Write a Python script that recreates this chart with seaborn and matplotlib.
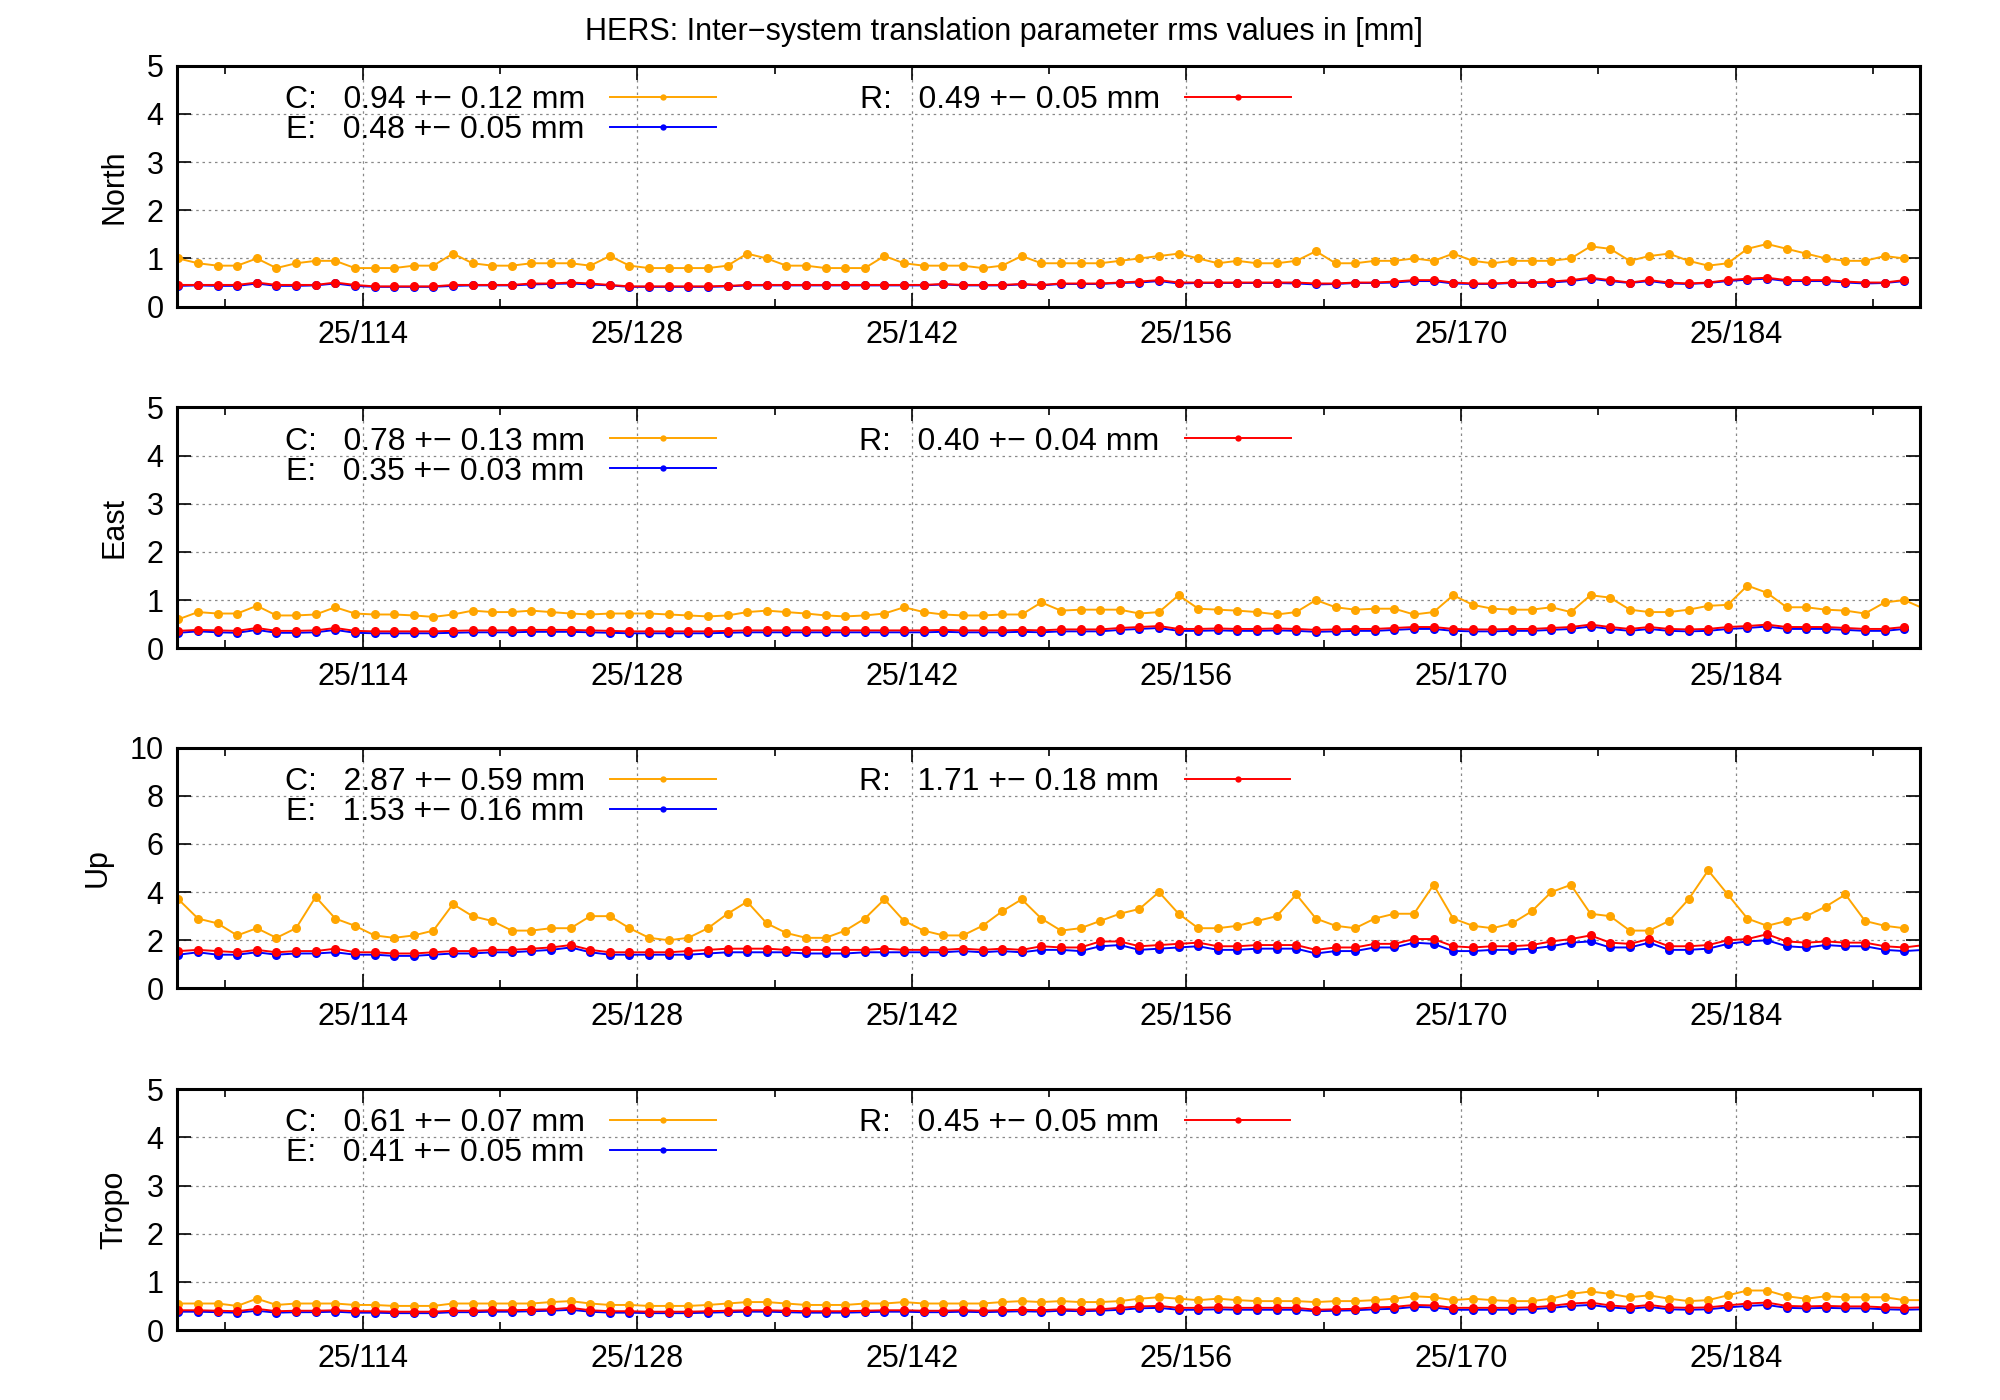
import numpy as np
import pandas as pd
import matplotlib
matplotlib.use("Agg")
import matplotlib.pyplot as plt
import seaborn as sns

start_day = 104.6
tick_days = [114, 128, 142, 156, 170, 184]
tick_labels = ["25/114", "25/128", "25/142", "25/156", "25/170", "25/184"]

north_C = [1.0,0.9,0.85,0.85,1.0,0.8,0.9,0.95,0.95,0.8,0.8,0.8,0.85,0.85,1.1,0.9,0.85,0.85,0.9,0.9,0.9,0.85,1.05,0.85,0.8,0.8,0.8,0.8,0.85,1.1,1.0,0.85,0.85,0.8,0.8,0.8,1.05,0.9,0.85,0.85,0.85,0.8,0.85,1.05,0.9,0.9,0.9,0.9,0.95,1.0,1.05,1.1,1.0,0.9,0.95,0.9,0.9,0.95,1.15,0.9,0.9,0.95,0.95,1.0,0.95,1.1,0.95,0.9,0.95,0.95,0.95,1.0,1.25,1.2,0.95,1.05,1.1,0.95,0.85,0.9,1.2,1.3,1.2,1.1,1.0,0.95,0.95,1.05,1.0]
north_E = [0.43,0.44,0.43,0.43,0.48,0.43,0.43,0.44,0.48,0.43,0.41,0.41,0.41,0.41,0.43,0.44,0.44,0.44,0.46,0.47,0.48,0.46,0.44,0.41,0.41,0.41,0.41,0.41,0.42,0.44,0.44,0.44,0.44,0.44,0.44,0.44,0.44,0.44,0.44,0.46,0.44,0.44,0.44,0.46,0.44,0.47,0.47,0.47,0.49,0.5,0.53,0.48,0.49,0.49,0.49,0.49,0.49,0.48,0.46,0.47,0.49,0.49,0.5,0.53,0.53,0.48,0.47,0.47,0.49,0.49,0.5,0.53,0.58,0.53,0.49,0.53,0.48,0.47,0.49,0.53,0.56,0.58,0.53,0.53,0.53,0.5,0.48,0.49,0.53]
north_R = [0.45,0.45,0.45,0.45,0.5,0.45,0.45,0.45,0.5,0.45,0.42,0.42,0.42,0.42,0.45,0.45,0.45,0.45,0.48,0.48,0.5,0.48,0.45,0.42,0.42,0.42,0.42,0.42,0.43,0.45,0.45,0.45,0.45,0.45,0.45,0.45,0.45,0.45,0.45,0.47,0.45,0.45,0.45,0.47,0.45,0.48,0.48,0.48,0.5,0.52,0.55,0.5,0.5,0.5,0.5,0.5,0.5,0.5,0.48,0.48,0.5,0.5,0.52,0.55,0.55,0.5,0.48,0.48,0.5,0.5,0.52,0.55,0.6,0.55,0.5,0.55,0.5,0.48,0.5,0.55,0.58,0.6,0.55,0.55,0.55,0.52,0.5,0.5,0.55]

east_C = [0.6,0.75,0.72,0.72,0.88,0.68,0.68,0.7,0.85,0.72,0.7,0.7,0.68,0.65,0.7,0.78,0.75,0.75,0.78,0.75,0.72,0.7,0.72,0.72,0.72,0.7,0.68,0.66,0.68,0.75,0.78,0.75,0.72,0.68,0.66,0.68,0.72,0.85,0.75,0.7,0.68,0.68,0.7,0.7,0.95,0.78,0.8,0.8,0.8,0.72,0.75,1.1,0.82,0.8,0.78,0.75,0.7,0.75,1.0,0.85,0.8,0.82,0.82,0.7,0.75,1.1,0.9,0.82,0.8,0.8,0.85,0.75,1.1,1.05,0.8,0.75,0.75,0.8,0.88,0.9,1.3,1.15,0.85,0.85,0.8,0.78,0.72,0.95,1.0,0.82]
east_E = [0.32,0.35,0.33,0.32,0.38,0.32,0.32,0.33,0.38,0.32,0.31,0.31,0.31,0.31,0.32,0.33,0.33,0.33,0.34,0.34,0.34,0.33,0.32,0.31,0.31,0.31,0.31,0.31,0.32,0.33,0.33,0.33,0.33,0.33,0.33,0.33,0.33,0.33,0.33,0.34,0.33,0.33,0.33,0.34,0.33,0.35,0.35,0.35,0.38,0.4,0.42,0.36,0.36,0.37,0.36,0.36,0.37,0.36,0.34,0.35,0.36,0.36,0.38,0.4,0.4,0.36,0.35,0.35,0.36,0.36,0.38,0.4,0.45,0.4,0.36,0.4,0.36,0.35,0.36,0.4,0.42,0.45,0.4,0.4,0.4,0.38,0.36,0.36,0.4]
east_R = [0.36,0.38,0.37,0.36,0.42,0.36,0.36,0.37,0.42,0.36,0.35,0.35,0.35,0.35,0.36,0.37,0.37,0.37,0.38,0.38,0.38,0.37,0.36,0.35,0.35,0.35,0.35,0.35,0.36,0.37,0.37,0.37,0.37,0.37,0.37,0.37,0.37,0.37,0.37,0.38,0.37,0.37,0.37,0.38,0.37,0.39,0.39,0.39,0.42,0.44,0.46,0.4,0.4,0.41,0.4,0.4,0.41,0.4,0.38,0.39,0.4,0.4,0.42,0.44,0.44,0.4,0.39,0.39,0.4,0.4,0.42,0.44,0.49,0.44,0.4,0.44,0.4,0.39,0.4,0.44,0.46,0.49,0.44,0.44,0.44,0.42,0.4,0.4,0.44]

up_C = [3.7,2.9,2.7,2.2,2.5,2.1,2.5,3.8,2.9,2.6,2.2,2.1,2.2,2.4,3.5,3.0,2.8,2.4,2.4,2.5,2.5,3.0,3.0,2.5,2.1,2.0,2.1,2.5,3.1,3.6,2.7,2.3,2.1,2.1,2.4,2.9,3.7,2.8,2.4,2.2,2.2,2.6,3.2,3.7,2.9,2.4,2.5,2.8,3.1,3.3,4.0,3.1,2.5,2.5,2.6,2.8,3.0,3.9,2.9,2.6,2.5,2.9,3.1,3.1,4.3,2.9,2.6,2.5,2.7,3.2,4.0,4.3,3.1,3.0,2.4,2.4,2.8,3.7,4.9,3.9,2.9,2.6,2.8,3.0,3.4,3.9,2.8,2.6,2.5]
up_E = [1.4,1.5,1.4,1.4,1.5,1.4,1.45,1.45,1.5,1.4,1.4,1.35,1.35,1.4,1.45,1.45,1.5,1.5,1.55,1.6,1.7,1.5,1.4,1.4,1.4,1.4,1.4,1.45,1.5,1.5,1.5,1.5,1.45,1.45,1.45,1.5,1.5,1.5,1.5,1.5,1.55,1.5,1.55,1.5,1.6,1.6,1.55,1.75,1.8,1.6,1.65,1.7,1.75,1.6,1.6,1.65,1.65,1.65,1.45,1.55,1.55,1.7,1.7,1.9,1.85,1.55,1.55,1.6,1.6,1.65,1.75,1.9,1.95,1.7,1.7,1.9,1.6,1.6,1.65,1.85,1.95,2.0,1.75,1.7,1.8,1.75,1.75,1.6,1.55,1.6,1.7]
up_R = [1.55,1.6,1.55,1.5,1.6,1.5,1.55,1.55,1.65,1.5,1.5,1.45,1.45,1.5,1.55,1.55,1.6,1.6,1.65,1.7,1.8,1.6,1.5,1.5,1.5,1.5,1.55,1.6,1.65,1.65,1.65,1.6,1.6,1.6,1.6,1.6,1.65,1.6,1.6,1.6,1.65,1.6,1.65,1.6,1.75,1.7,1.7,1.95,1.95,1.75,1.8,1.85,1.9,1.75,1.75,1.8,1.8,1.8,1.6,1.7,1.7,1.85,1.85,2.05,2.05,1.75,1.7,1.75,1.75,1.8,1.95,2.05,2.2,1.9,1.85,2.05,1.75,1.75,1.8,2.0,2.05,2.25,1.95,1.9,1.95,1.9,1.9,1.75,1.7,1.8,1.9]

tropo_C = [0.55,0.55,0.55,0.5,0.65,0.52,0.55,0.55,0.55,0.52,0.52,0.5,0.5,0.5,0.55,0.55,0.55,0.55,0.55,0.58,0.6,0.55,0.52,0.52,0.5,0.5,0.5,0.52,0.55,0.58,0.58,0.55,0.52,0.52,0.52,0.55,0.55,0.58,0.55,0.55,0.55,0.55,0.58,0.6,0.58,0.6,0.58,0.58,0.6,0.65,0.68,0.65,0.62,0.65,0.62,0.6,0.6,0.6,0.58,0.6,0.6,0.62,0.65,0.7,0.68,0.62,0.65,0.62,0.6,0.6,0.65,0.75,0.8,0.75,0.68,0.72,0.65,0.6,0.62,0.72,0.82,0.82,0.7,0.65,0.7,0.68,0.68,0.68,0.62,0.62,0.65]
tropo_E = [0.38,0.38,0.37,0.36,0.4,0.36,0.37,0.37,0.38,0.36,0.36,0.35,0.35,0.35,0.37,0.37,0.38,0.38,0.39,0.4,0.42,0.38,0.36,0.36,0.35,0.35,0.35,0.36,0.37,0.38,0.38,0.37,0.36,0.36,0.36,0.37,0.38,0.38,0.37,0.37,0.38,0.37,0.38,0.39,0.38,0.4,0.39,0.4,0.42,0.45,0.46,0.42,0.42,0.43,0.42,0.42,0.42,0.42,0.39,0.4,0.41,0.43,0.44,0.48,0.47,0.42,0.42,0.42,0.42,0.43,0.46,0.5,0.52,0.47,0.44,0.48,0.43,0.42,0.43,0.47,0.5,0.52,0.46,0.45,0.46,0.45,0.45,0.43,0.42,0.43,0.45]
tropo_R = [0.41,0.41,0.4,0.39,0.44,0.39,0.4,0.4,0.41,0.39,0.39,0.38,0.38,0.38,0.4,0.4,0.41,0.41,0.42,0.43,0.46,0.41,0.39,0.39,0.38,0.38,0.38,0.39,0.4,0.41,0.41,0.4,0.39,0.39,0.39,0.4,0.41,0.41,0.4,0.4,0.41,0.4,0.41,0.42,0.41,0.43,0.42,0.43,0.46,0.49,0.5,0.46,0.46,0.47,0.46,0.46,0.46,0.46,0.42,0.43,0.44,0.47,0.48,0.52,0.51,0.46,0.46,0.46,0.46,0.47,0.5,0.55,0.57,0.51,0.48,0.52,0.47,0.46,0.47,0.51,0.55,0.57,0.5,0.49,0.5,0.49,0.49,0.47,0.46,0.47,0.49]

panel_names = ["North", "East", "Up", "Tropo"]
panel_data = [(north_C, north_E, north_R), (east_C, east_E, east_R),
              (up_C, up_E, up_R), (tropo_C, tropo_E, tropo_R)]
panel_stats = [("0.94 +\u2212 0.12", "0.48 +\u2212 0.05", "0.49 +\u2212 0.05"),
               ("0.78 +\u2212 0.13", "0.35 +\u2212 0.03", "0.40 +\u2212 0.04"),
               ("2.87 +\u2212 0.59", "1.53 +\u2212 0.16", "1.71 +\u2212 0.18"),
               ("0.61 +\u2212 0.07", "0.41 +\u2212 0.05", "0.45 +\u2212 0.05")]
panel_ymax = [5, 5, 10, 5]
panel_yticks = [[0, 1, 2, 3, 4, 5], [0, 1, 2, 3, 4, 5], [0, 2, 4, 6, 8, 10], [0, 1, 2, 3, 4, 5]]
systems = ["C", "E", "R"]
colors = {"C": "#ffa500", "E": "#0000ff", "R": "#ff0000"}

plt.rcParams["font.family"] = "Liberation Sans"
fig = plt.figure(figsize=(20, 14), dpi=100)
fig.text(0.502, 0.977, "HERS: Inter\u2212system translation parameter rms values in [mm]",
         ha="center", va="center", fontsize=22)

bottoms = [0.781, 0.537, 0.294, 0.050]
for i, name in enumerate(panel_names):
    ax = fig.add_axes([0.0887, bottoms[i], 0.8713, 0.172])
    for s, vals, st in zip(systems, panel_data[i], panel_stats[i]):
        df = pd.DataFrame({"day": start_day + np.arange(len(vals)), "v": vals})
        sns.lineplot(data=df, x="day", y="v", ax=ax, color=colors[s], marker="o",
                     markersize=6.5, markeredgewidth=0, linewidth=1.4,
                     label=f"{s}:   {st} mm")
    ax.set_xlim(104.55, 193.4)
    ax.set_ylim(0, panel_ymax[i])
    ax.set_yticks(panel_yticks[i])
    ax.set_xticks(tick_days)
    ax.set_xticklabels(tick_labels)
    ax.set_xticks([107, 121, 135, 149, 163, 177, 191], minor=True)
    ax.tick_params(axis="both", which="major", labelsize=22, direction="in", length=10, width=1.2, pad=10)
    ax.tick_params(axis="x", which="minor", direction="in", length=6, width=1.2)
    ax.tick_params(top=True, right=True, which="both")
    ax.grid(True, which="major", color="#888888", linestyle=(0, (2, 3)), linewidth=0.9)
    ax.set_xlabel("")
    ax.set_ylabel(name, fontsize=22, labelpad=12)
    for sp in ax.spines.values():
        sp.set_linewidth(2.2)
    ax.legend(ncol=2, loc="upper left", bbox_to_anchor=(0.045, 1.04), frameon=False,
              markerfirst=False, fontsize=23, handlelength=3.3, columnspacing=4.5,
              labelspacing=0.0, handletextpad=0.8, markerscale=0.7)

fig.savefig("out.png", dpi=100)
